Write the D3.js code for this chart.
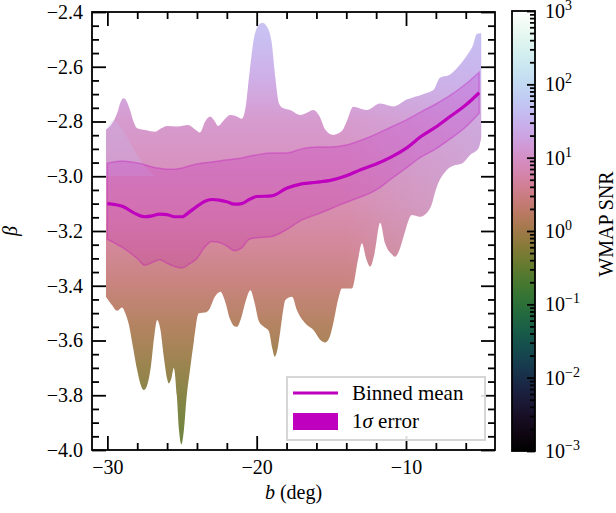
<!DOCTYPE html>
<html>
<head>
<meta charset="utf-8">
<script src="https://cdn.jsdelivr.net/npm/d3@7"></script>
<style>
  body { margin: 0; background: #fff; }
  svg text { font-family: "Liberation Serif", "Times New Roman", serif; fill: #000; }
</style>
</head>
<body>
<div id="chart"></div>
<script>
// outer envelope of the pixel cloud: upper edge
var topB    = [-30.1, -29.6, -29.35, -29.1, -28.93, -28.75, -28.5, -28.25, -28.0, -27.4, -26.8, -26.4, -26.0, -25.3, -24.6, -24.1, -23.8, -23.45, -23.12, -22.8, -22.59, -22.2, -21.78, -21.4, -21.0, -20.75, -20.5, -20.2, -19.9, -19.62, -19.3, -19.0, -18.75, -18.5, -18.2, -17.76, -17.09, -16.64, -16.2, -15.8, -15.4, -14.88, -14.3, -13.97, -13.54, -12.63, -11.73, -10.84, -9.95, -8.85, -8.16, -7.72, -7.1, -6.5, -5.93, -5.5, -5.26, -4.95];
var topBeta = [-2.83, -2.80, -2.77, -2.727, -2.715, -2.722, -2.755, -2.80, -2.825, -2.832, -2.837, -2.825, -2.816, -2.818, -2.813, -2.83, -2.84, -2.80, -2.782, -2.80, -2.816, -2.795, -2.776, -2.78, -2.79, -2.75, -2.63, -2.50, -2.45, -2.439, -2.455, -2.51, -2.64, -2.735, -2.752, -2.758, -2.776, -2.768, -2.758, -2.78, -2.83, -2.849, -2.835, -2.80, -2.746, -2.758, -2.734, -2.745, -2.72, -2.70, -2.685, -2.64, -2.63, -2.60, -2.56, -2.52, -2.48, -2.478];

// lower edge
var botB    = [-30.1, -29.7, -29.35, -29.02, -28.8, -28.57, -28.3, -28.0, -27.75, -27.56, -27.35, -27.1, -26.85, -26.67, -26.45, -26.22, -26.0, -25.89, -25.72, -25.55, -25.35, -25.2, -25.04, -24.88, -24.7, -24.45, -24.2, -23.88, -23.44, -23.21, -22.8, -22.43, -22.1, -21.8, -21.5, -21.31, -21.05, -20.76, -20.42, -20.15, -19.85, -19.52, -19.19, -18.95, -18.79, -18.6, -18.41, -18.2, -18.08, -17.63, -17.31, -16.7, -16.2, -15.7, -15.42, -15.1, -14.86, -14.5, -14.3, -13.63, -13.2, -12.96, -12.67, -12.4, -12.1, -11.73, -11.4, -10.95, -10.74, -10.45, -10.17, -9.61, -9.06, -8.39, -7.94, -7.27, -6.71, -6.26, -5.71, -5.15, -4.95];
var botBeta = [-3.44, -3.47, -3.491, -3.479, -3.50, -3.54, -3.62, -3.71, -3.765, -3.781, -3.765, -3.70, -3.58, -3.525, -3.56, -3.66, -3.74, -3.757, -3.74, -3.70, -3.80, -3.93, -3.98, -3.93, -3.81, -3.70, -3.60, -3.50, -3.498, -3.489, -3.44, -3.422, -3.46, -3.52, -3.548, -3.55, -3.52, -3.46, -3.416, -3.46, -3.53, -3.55, -3.565, -3.63, -3.659, -3.63, -3.562, -3.48, -3.452, -3.44, -3.489, -3.54, -3.562, -3.60, -3.607, -3.585, -3.534, -3.44, -3.41, -3.41, -3.30, -3.245, -3.30, -3.33, -3.28, -3.17, -3.245, -3.285, -3.294, -3.27, -3.221, -3.142, -3.148, -3.117, -3.038, -2.977, -2.959, -2.953, -2.922, -2.898, -2.855];

// colour of the cloud against beta (SNR)
var gradBeta = [-2.40, -2.50, -2.65, -2.80, -2.95, -3.10, -3.25, -3.40, -3.55, -3.70, -3.85, -4.00];
var gradSNR  = [50, 38, 22, 11, 8, 6, 4, 2.3, 1.3, 0.75, 0.45, 0.3];

// higher SNR towards the plane (right side), as a lavender tint
var tintB       = [-31, -14, -9, -5];
var tintOpacity = [0, 0, 0.25, 0.45];
var tintSNR     = 40;

// lighter (higher SNR) lobe at the left end of the cloud
var lobeB    = [-30.1, -29.6, -29.0, -28.3, -27.6, -26.8];
var lobeBeta = [-2.83, -2.795, -2.83, -2.895, -2.955, -3.0];
var lobeSNR  = 40;

// binned mean and 1 sigma band
var binB     = [-30, -29, -28, -27.5, -27, -26.5, -26, -25.5, -25, -24.5, -24, -23.5, -23, -22.5, -22, -21.5, -21, -20.5, -20, -19, -18, -17, -16, -15, -14, -13, -12, -11, -10, -9, -8, -7, -6, -5.1];
var binMean  = [-3.100, -3.110, -3.140, -3.148, -3.145, -3.138, -3.140, -3.148, -3.148, -3.130, -3.110, -3.092, -3.085, -3.087, -3.093, -3.102, -3.100, -3.085, -3.074, -3.072, -3.044, -3.028, -3.022, -3.014, -2.998, -2.975, -2.955, -2.930, -2.898, -2.855, -2.820, -2.780, -2.740, -2.695];
var binHi    = [-2.952, -2.944, -2.952, -2.958, -2.966, -2.971, -2.974, -2.974, -2.970, -2.962, -2.955, -2.951, -2.948, -2.944, -2.940, -2.937, -2.933, -2.927, -2.922, -2.915, -2.915, -2.900, -2.893, -2.893, -2.886, -2.868, -2.846, -2.820, -2.795, -2.765, -2.736, -2.703, -2.663, -2.620];
var binLo    = [-3.230, -3.260, -3.300, -3.325, -3.315, -3.305, -3.318, -3.330, -3.335, -3.320, -3.300, -3.260, -3.238, -3.242, -3.255, -3.272, -3.262, -3.230, -3.225, -3.220, -3.195, -3.160, -3.140, -3.118, -3.095, -3.075, -3.050, -3.010, -2.970, -2.930, -2.900, -2.862, -2.820, -2.770];

var xMajor = [-30, -20, -10];
var yMajor = [-4.0, -3.8, -3.6, -3.4, -3.2, -3.0, -2.8, -2.6, -2.4];
var cbExp  = [-3, -2, -1, 0, 1, 2, 3];

var W = 616, H = 513;
var pL = 92, pR = 495, pT = 12, pB = 450;
var magenta = "#bf00bf";

var x = d3.scaleLinear().domain([-31.03, -4.04]).range([pL, pR]),
    y = d3.scaleLinear().domain([-4.0, -2.4]).range([pB, pT]);

var snr = d3.scaleLog().domain([1e-3, 1e3]).range([0, 1]);
function cmap(v) { return d3.interpolateCubehelixDefault(snr(v)); }

var svg = d3.select("#chart").append("svg")
    .attr("width", W)
    .attr("height", H);

var defs = svg.append("defs");

var grad = defs.append("linearGradient")
    .attr("id", "envGrad")
    .attr("gradientUnits", "userSpaceOnUse")
    .attr("x1", 0).attr("x2", 0)
    .attr("y1", y(-2.4)).attr("y2", y(-4.0));
grad.selectAll("stop")
    .data(gradBeta)
    .enter().append("stop")
    .attr("offset", function(d) { return (y(d) - y(-2.4)) / (y(-4.0) - y(-2.4)); })
    .attr("stop-color", function(d, i) { return cmap(gradSNR[i]); });

var tint = defs.append("linearGradient")
    .attr("id", "tintGrad")
    .attr("gradientUnits", "userSpaceOnUse")
    .attr("x1", x(-31)).attr("x2", x(-5))
    .attr("y1", 0).attr("y2", 0);
tint.selectAll("stop")
    .data(tintB)
    .enter().append("stop")
    .attr("offset", function(d) { return (x(d) - x(-31)) / (x(-5) - x(-31)); })
    .attr("stop-color", cmap(tintSNR))
    .attr("stop-opacity", function(d, i) { return tintOpacity[i]; });

defs.append("clipPath").attr("id", "plotClip")
  .append("rect")
    .attr("x", pL).attr("y", pT)
    .attr("width", pR - pL).attr("height", pB - pT);

// envelope = region under the upper edge, clipped to the region above the lower edge
var underTop = d3.area()
    .x(function(d) { return x(d[0]); })
    .y0(pB)
    .y1(function(d) { return y(d[1]); })
    .curve(d3.curveMonotoneX);
var overBot = d3.area()
    .x(function(d) { return x(d[0]); })
    .y0(pT)
    .y1(function(d) { return y(d[1]); })
    .curve(d3.curveMonotoneX);

defs.append("clipPath").attr("id", "envClip")
  .append("path")
    .attr("d", overBot(d3.zip(botB, botBeta)));

var plot = svg.append("g").attr("clip-path", "url(#plotClip)");

var env = plot.append("g").attr("clip-path", "url(#envClip)");
env.append("path")
    .attr("d", underTop(d3.zip(topB, topBeta)))
    .attr("fill", "url(#envGrad)")
    .attr("fill-opacity", 0.92);
env.append("path")
    .attr("d", underTop(d3.zip(topB, topBeta)))
    .attr("fill", "url(#tintGrad)");

var lobe = d3.area()
    .x(function(d) { return x(d[0]); })
    .y0(y(-3.0))
    .y1(function(d) { return y(d[1]); })
    .curve(d3.curveMonotoneX);
env.append("path")
    .attr("d", lobe(d3.zip(lobeB, lobeBeta)))
    .attr("fill", cmap(lobeSNR))
    .attr("fill-opacity", 0.28);

// 1 sigma band
var band = d3.area()
    .x(function(d, i) { return x(binB[i]); })
    .y0(function(d, i) { return y(binLo[i]); })
    .y1(function(d, i) { return y(binHi[i]); })
    .curve(d3.curveMonotoneX);

plot.append("path")
    .datum(binB)
    .attr("d", band)
    .attr("fill", magenta)
    .attr("fill-opacity", 0.2)
    .attr("stroke", magenta)
    .attr("stroke-opacity", 0.3)
    .attr("stroke-width", 1.5);

var meanLine = d3.line()
    .x(function(d, i) { return x(binB[i]); })
    .y(function(d, i) { return y(binMean[i]); })
    .curve(d3.curveMonotoneX);

plot.append("path")
    .datum(binB)
    .attr("d", meanLine)
    .attr("fill", "none")
    .attr("stroke", magenta)
    .attr("stroke-width", 3.2);

// axes, ticks pointing inwards on all four sides
var xMinor = d3.range(-30, -4, 2).filter(function(d) { return xMajor.indexOf(d) < 0; });
var yMinor = d3.range(0, 33).map(function(i) { return -4.0 + i * 0.05; })
    .filter(function(d) { return Math.abs(Math.round(d * 5) - d * 5) > 1e-6; });

function tickStyle(g) {
  g.select(".domain").remove();
  g.selectAll("line").attr("stroke", "#000").attr("stroke-width", 1.8);
  g.attr("font-family", null).attr("font-size", 20);
}

svg.append("g").attr("transform", "translate(0," + pB + ")")
    .call(d3.axisBottom(x).tickValues(xMajor).tickSize(-14).tickPadding(10).tickFormat(d3.format("d")))
    .call(tickStyle);
svg.append("g").attr("transform", "translate(0," + pB + ")")
    .call(d3.axisBottom(x).tickValues(xMinor).tickSize(-7).tickFormat(""))
    .call(tickStyle);
svg.append("g").attr("transform", "translate(0," + pT + ")")
    .call(d3.axisTop(x).tickValues(xMajor).tickSize(-14).tickFormat(""))
    .call(tickStyle);
svg.append("g").attr("transform", "translate(0," + pT + ")")
    .call(d3.axisTop(x).tickValues(xMinor).tickSize(-7).tickFormat(""))
    .call(tickStyle);

svg.append("g").attr("transform", "translate(" + pL + ",0)")
    .call(d3.axisLeft(y).tickValues(yMajor).tickSize(-14).tickPadding(9).tickFormat(d3.format(".1f")))
    .call(tickStyle);
svg.append("g").attr("transform", "translate(" + pL + ",0)")
    .call(d3.axisLeft(y).tickValues(yMinor).tickSize(-7).tickFormat(""))
    .call(tickStyle);
svg.append("g").attr("transform", "translate(" + pR + ",0)")
    .call(d3.axisRight(y).tickValues(yMajor).tickSize(-14).tickFormat(""))
    .call(tickStyle);
svg.append("g").attr("transform", "translate(" + pR + ",0)")
    .call(d3.axisRight(y).tickValues(yMinor).tickSize(-7).tickFormat(""))
    .call(tickStyle);

svg.append("rect")
    .attr("x", pL).attr("y", pT)
    .attr("width", pR - pL).attr("height", pB - pT)
    .attr("fill", "none")
    .attr("stroke", "#000")
    .attr("stroke-width", 1.8);

svg.append("text")
    .attr("x", (pL + pR) / 2)
    .attr("y", 499)
    .attr("text-anchor", "middle")
    .attr("font-size", 20)
    .html('<tspan font-style="italic">b</tspan> (deg)');

svg.append("text")
    .attr("transform", "translate(17," + (pT + pB) / 2 + ") rotate(-90)")
    .attr("text-anchor", "middle")
    .attr("font-size", 20)
    .attr("font-style", "italic")
    .text("β");

// legend
var lg = svg.append("g").attr("transform", "translate(287,377)");
lg.append("rect")
    .attr("width", 198).attr("height", 63)
    .attr("fill", "#fff").attr("fill-opacity", 0.85)
    .attr("stroke", "#d6d6d6").attr("stroke-width", 2);
lg.append("line")
    .attr("x1", 6).attr("x2", 51).attr("y1", 16).attr("y2", 16)
    .attr("stroke", magenta).attr("stroke-width", 3);
lg.append("rect")
    .attr("x", 6).attr("y", 36).attr("width", 45).attr("height", 17)
    .attr("fill", magenta);
lg.append("text").attr("x", 65).attr("y", 23).attr("font-size", 21).text("Binned mean");
lg.append("text").attr("x", 65).attr("y", 51).attr("font-size", 21)
    .html('1<tspan font-style="italic">σ</tspan> error');

// colour bar
var cbL = 512, cbR = 535, cbT = 11, cbB = 451;
var cb = d3.scaleLog().domain([1e-3, 1e3]).range([cbB, cbT]);

var cbGrad = defs.append("linearGradient")
    .attr("id", "cbGrad")
    .attr("x1", 0).attr("x2", 0).attr("y1", 1).attr("y2", 0);
cbGrad.selectAll("stop")
    .data(d3.range(0, 51))
    .enter().append("stop")
    .attr("offset", function(d) { return d / 50; })
    .attr("stop-color", function(d) { return d3.interpolateCubehelixDefault(d / 50); });

svg.append("rect")
    .attr("x", cbL).attr("y", cbT)
    .attr("width", cbR - cbL).attr("height", cbB - cbT)
    .attr("fill", "url(#cbGrad)");

var cbMajor = cbExp.map(function(e) { return Math.pow(10, e); });
var cbMinor = [];
cbExp.slice(0, -1).forEach(function(e) {
  for (var k = 2; k < 10; k++) cbMinor.push(k * Math.pow(10, e));
});

svg.append("g").attr("transform", "translate(" + cbR + ",0)")
    .call(d3.axisRight(cb).tickValues(cbMajor).tickSize(-8).tickFormat(""))
    .call(tickStyle);
svg.append("g").attr("transform", "translate(" + cbR + ",0)")
    .call(d3.axisRight(cb).tickValues(cbMinor).tickSize(-5).tickFormat(""))
    .call(tickStyle);

svg.append("rect")
    .attr("x", cbL).attr("y", cbT)
    .attr("width", cbR - cbL).attr("height", cbB - cbT)
    .attr("fill", "none")
    .attr("stroke", "#000")
    .attr("stroke-width", 1.8);

svg.selectAll(".cblab")
    .data(cbExp)
    .enter().append("text")
    .attr("class", "cblab")
    .attr("x", 545)
    .attr("y", function(d) { return cb(Math.pow(10, d)) + 7; })
    .attr("font-size", 20)
    .html(function(d) {
      return '10<tspan dy="-8" font-size="14">' + (d < 0 ? "\u2212" + (-d) : d) + '</tspan>';
    });

svg.append("text")
    .attr("transform", "translate(613,224) rotate(-90)")
    .attr("text-anchor", "middle")
    .attr("font-size", 20)
    .text("WMAP SNR");
</script>
</body>
</html>
